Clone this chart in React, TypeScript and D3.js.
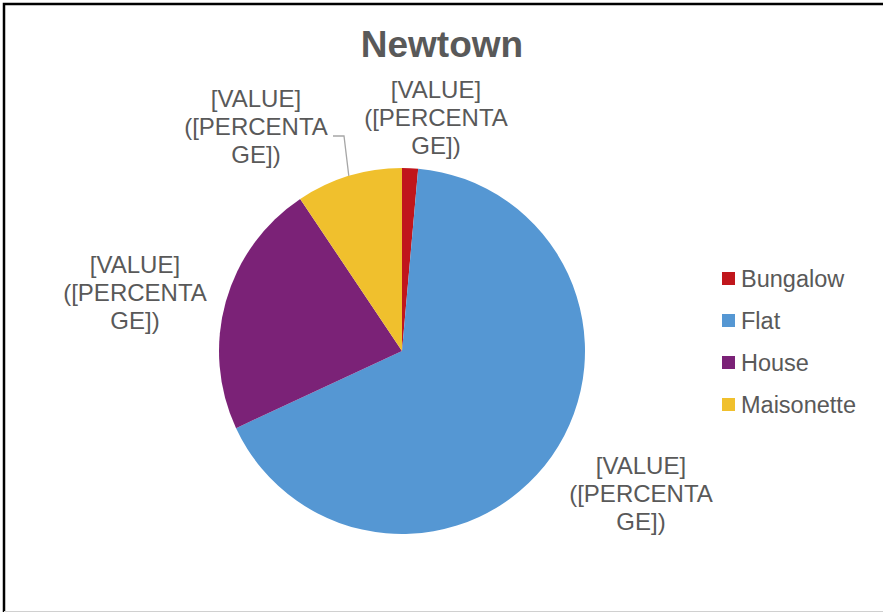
import React from "react";
import * as d3 from "d3";

const title = "Newtown";
const categories = ["Bungalow", "Flat", "House", "Maisonette"];
const values = [3, 142, 48, 20];
const colors = ["#C0161C", "#5597D3", "#7B2277", "#F0C02D"];
const labelLines = ["[VALUE]", "([PERCENTA", "GE])"];
// label anchor (center x, first baseline y) per category
const labelPos: [number, number][] = [
  [436, 98],
  [641, 474],
  [135, 273],
  [256, 107],
];

const W = 883;
const H = 613;
const cx = 402;
const cy = 351;
const R = 183;
const textColor = "#595959";
const font = "Arial, 'Liberation Sans', sans-serif";

export default function App() {
  const pie = d3
    .pie<number>()
    .sort(null)
    .value((d) => d);
  const arcs = pie(values);
  const arc = d3.arc<d3.PieArcDatum<number>>().innerRadius(0).outerRadius(R);

  // leader line for Maisonette label
  const mArc = arcs[3];
  const mid = (mArc.startAngle + mArc.endAngle) / 2;
  const lineEnd: [number, number] = [cx + Math.sin(mid) * R, cy - Math.cos(mid) * R];

  const legendX = 722;
  const legendY0 = 272;
  const legendStep = 42;

  return (
    <svg
      width={W}
      height={H}
      style={{ position: "absolute", left: 0, top: 0, fontFamily: font }}
    >
      <rect x={0} y={0} width={W} height={H} fill="#fff" />
      <path d="M4,612 L4,4 L890,4" fill="none" stroke="#000" strokeWidth={2.5} />
      <line x1={4} y1={611.5} x2={W} y2={611.5} stroke="#d0d0d0" strokeWidth={1} />
      <text
        x={442}
        y={57}
        textAnchor="middle"
        fontSize={37}
        fontWeight="bold"
        fill={textColor}
      >
        {title}
      </text>
      <g transform={`translate(${cx},${cy})`}>
        {arcs.map((a, i) => (
          <path key={categories[i]} d={arc(a) || ""} fill={colors[i]} />
        ))}
      </g>
      <polyline
        points={`333,136 344,136 ${lineEnd[0].toFixed(1)},${lineEnd[1].toFixed(1)}`}
        fill="none"
        stroke="#a6a6a6"
        strokeWidth={1.3}
      />
      {labelPos.map(([x, y], i) => (
        <text
          key={"lbl" + i}
          textAnchor="middle"
          fontSize={24}
          fill={textColor}
        >
          {labelLines.map((t, j) => (
            <tspan key={j} x={x} y={y + j * 28}>
              {t}
            </tspan>
          ))}
        </text>
      ))}
      {categories.map((c, i) => (
        <g key={c} transform={`translate(${legendX},${legendY0 + i * legendStep})`}>
          <rect width={13} height={13} fill={colors[i]} />
          <text x={19} y={14.5} fontSize={23.5} fill={textColor}>
            {c}
          </text>
        </g>
      ))}
    </svg>
  );
}
